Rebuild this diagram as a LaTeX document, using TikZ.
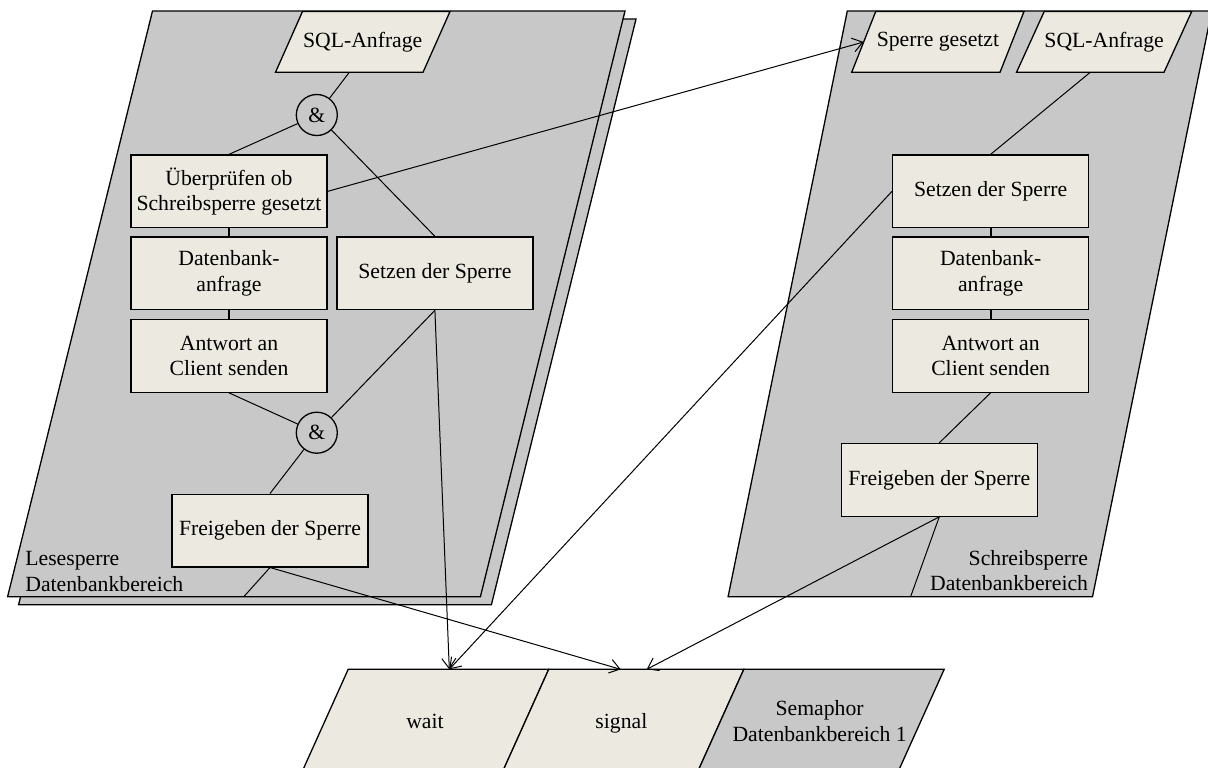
\documentclass[tikz,border=0pt]{standalone}
\usepackage{fontspec}
\setmainfont{Liberation Serif}
\usetikzlibrary{arrows.meta}
\definecolor{lanegray}{RGB}{200,200,200}
\definecolor{taskbeige}{RGB}{236,234,224}
\tikzset{
  panel/.style={draw=black, fill=lanegray, line width=0.65pt},
  slot/.style={draw=black, fill=taskbeige, line width=0.65pt},
  task/.style={draw=black, fill=taskbeige, line width=0.65pt, minimum width=98pt,
    minimum height=36.35pt, inner sep=0pt, align=center},
  gate/.style={circle, draw=black, fill=lanegray, line width=0.65pt,
    minimum size=20.5pt, inner sep=0pt},
  link/.style={line width=0.5pt},
  stack/.style={line width=0.9pt},
  msg/.style={link, -{Straight Barb[length=5pt,width=7pt]}}
}

\begin{document}
\begin{tikzpicture}[x=0.5pt, y=-0.5pt, font=\fontsize{10.85}{12.6}\selectfont]
\useasboundingbox (0,0) rectangle (1208,767);

% Lesesperre, with the sheet behind it
\filldraw[panel, xshift=5.5pt, yshift=-4pt] (7.6,596.7) -- (480.4,596.7) -- (625,11) -- (152.5,11) -- cycle;
\filldraw[panel] (7.6,596.7) -- (480.4,596.7) -- (625,11) -- (152.5,11) -- cycle;
\filldraw[slot] (275.5,72.3) -- (423,72.3) -- (450,11.5) -- (302.5,11.5) -- cycle;

\node (anfrageL) at (362.7,42) {SQL-Anfrage};
\coordinate (anfrageL-out) at (349.3,72.3);
\node[gate] (und1) at (316.8,115) {\&};
\node[task] (pruefen) at (229,191.35) {Überprüfen ob\\Schreibsperre gesetzt};
\node[task] (abfrageL) at (229,273.3) {Datenbank-\\anfrage};
\node[task] (antwortL) at (229,355.85) {Antwort an\\Client senden};
\node[task] (setzenL) at (434.9,273.3) {Setzen der Sperre};
\node[gate] (und2) at (316.8,432.7) {\&};
\node[task] (freigabeL) at (270,530.5) {Freigeben der Sperre};
\coordinate (endeL) at (243.8,596.7);
\node[anchor=south west, inner sep=0pt, align=left] (leseL) at (25,591.7) {Lesesperre\\Datenbankbereich};

\draw[link] (anfrageL-out) -- (und1);
\draw[link] (und1) -- (pruefen.north);
\draw[link] (und1) -- (setzenL.north);
\foreach \a/\b in {pruefen/abfrageL, abfrageL/antwortL}
  \draw[stack] (\a) -- (\b);
\draw[link] (antwortL.south) -- (und2);
\draw[link] (setzenL.south) -- (und2);
\draw[link] (und2) -- (freigabeL.north);
\draw[link] (freigabeL.south) -- (endeL);

% Schreibsperre
\filldraw[panel] (728.1,596.7) -- (1092.5,596.7) -- (1211.7,11) -- (847.3,11) -- cycle;
\filldraw[slot] (851.7,72.3) -- (1000,72.3) -- (1024,11.5) -- (875.7,11.5) -- cycle;
\filldraw[slot] (1016.5,72.3) -- (1164,72.3) -- (1191.7,11.5) -- (1044.2,11.5) -- cycle;

\node (gesetzt) at (937.9,42) {Sperre gesetzt};
\coordinate (gesetzt-in) at (863.6,42);
\node (anfrageR) at (1104.1,42) {SQL-Anfrage};
\coordinate (anfrageR-out) at (1090.25,72.3);
\node[task] (setzenR) at (990.6,191.35) {Setzen der Sperre};
\node[task] (abfrageR) at (990.6,273.3) {Datenbank-\\anfrage};
\node[task] (antwortR) at (990.6,355.85) {Antwort an\\Client senden};
\node[task] (freigabeR) at (939.25,479.85) {Freigeben der Sperre};
\coordinate (endeR) at (910.6,596.7);
\node[anchor=south east, inner sep=0pt, align=right] (schreibR) at (1088.4,591) {Schreibsperre\\Datenbankbereich};

\draw[link] (anfrageR-out) -- (setzenR.north);
\foreach \a/\b in {setzenR/abfrageR, abfrageR/antwortR}
  \draw[stack] (\a) -- (\b);
\draw[link] (antwortR.south) -- (freigabeR.north);
\draw[link] (freigabeR.south) -- (endeR);

% Semaphor
\filldraw[slot] (348.2,669.3) -- (548.7,669.3) -- (503.8,769) -- (303.3,769) -- cycle;
\filldraw[slot] (548.7,669.3) -- (743.8,669.3) -- (698.9,769) -- (503.8,769) -- cycle;
\filldraw[panel] (743.8,669.3) -- (944.2,669.3) -- (899.3,769) -- (698.9,769) -- cycle;
\node[anchor=base] (wait) at (425,728.3) {wait};
\node[anchor=base] (signal) at (621.4,728.3) {signal};
\node[anchor=south, inner sep=0pt, align=center] (semaphor) at (819.6,741.7) {Semaphor\\Datenbankbereich 1};
\coordinate (wait-in) at (449.3,669.3);
\coordinate (signal-inL) at (620.7,669.3);
\coordinate (signal-inR) at (646.7,669.3);

\draw[msg] (pruefen.east) -- (gesetzt-in);
\draw[msg] (setzenL.south) -- (wait-in);
\draw[msg] (setzenR.west) -- (wait-in);
\draw[msg] (freigabeL.south) -- (signal-inL);
\draw[msg] (freigabeR.south) -- (signal-inR);
\end{tikzpicture}
\end{document}
